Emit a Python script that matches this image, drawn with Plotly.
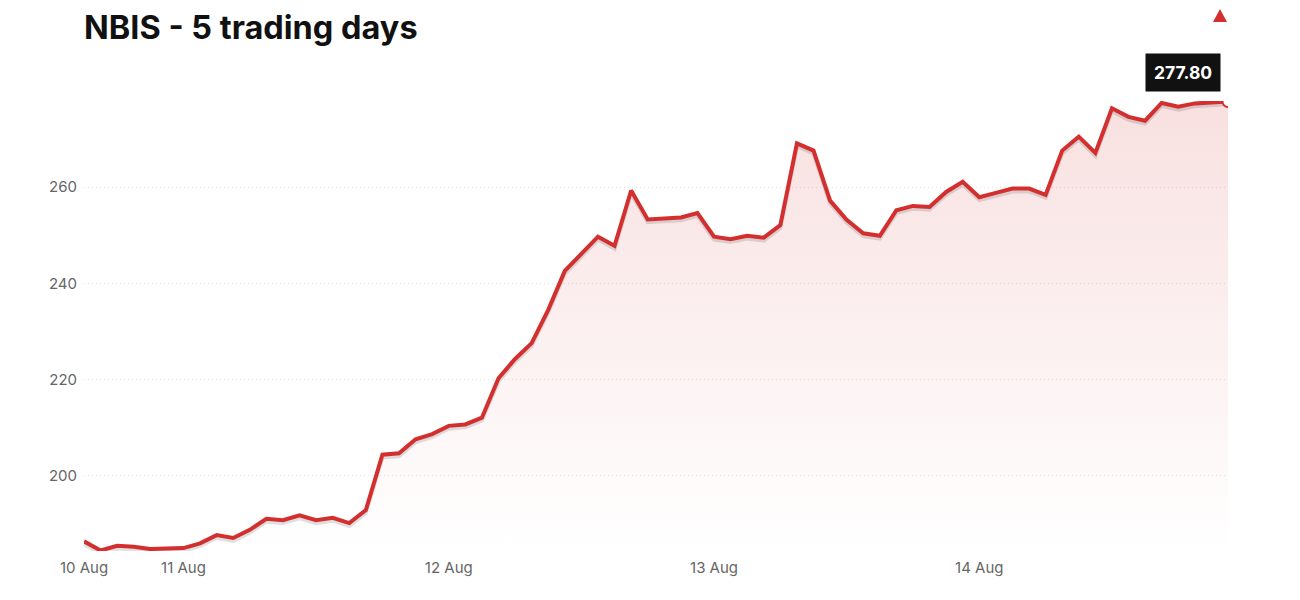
import plotly.graph_objects as go

# NBIS price, 16 points per trading day (first 6 points before 11 Aug)
prices = [
    186.4, 184.5, 185.5, 185.3, 184.8, 184.8,
    185.0, 186.0, 187.7, 187.1, 188.8, 191.1, 190.8, 191.8,
    190.8, 191.3, 190.2, 192.9, 204.4, 204.7, 207.6, 208.7,
    210.4, 210.7, 212.1, 220.3, 224.3, 227.6, 234.5, 242.6,
    246.1, 249.7, 247.8, 259.3, 253.3, 253.4, 253.7, 254.6,
    249.7, 249.2, 249.9, 249.5, 252.1, 269.1, 267.6, 257.2,
    253.2, 250.4, 249.9, 255.2, 256.1, 255.9, 259.0, 261.1,
    257.9, 258.8, 259.7, 259.7, 258.4, 267.6, 270.5, 267.1,
    276.4, 274.6, 273.8, 277.5, 276.7, 277.4, 277.5, 277.8,
]
x_idx = list(range(len(prices)))

tick_pos = [0, 6, 22, 38, 54]
tick_labels = ["10 Aug", "11 Aug", "12 Aug", "13 Aug", "14 Aug"]
y_ticks = [200, 220, 240, 260]

last_price = prices[-1]
RED = "rgb(211,47,47)"
FONT = "Inter"

# page body adds 8px, so margins are trimmed to land where the reference is
ML, MR, MT, MB = 76, 80, 93, 57
W, H = 1300, 600
PLOT_W, PLOT_H = W - ML - MR, H - MT - MB

fig = go.Figure()

# gradient fill under the line
fig.add_trace(go.Scatter(
    x=x_idx, y=prices, mode="none", fill="tozeroy",
    fillgradient=dict(
        type="vertical",
        start=min(prices), stop=max(prices),
        colorscale=[[0, "rgba(211,47,47,0.0)"], [1, "rgba(211,47,47,0.15)"]],
    ),
    hoverinfo="skip", showlegend=False,
))

# soft shadow below the line
fig.add_trace(go.Scatter(
    x=x_idx, y=[p - 0.6 for p in prices], mode="lines",
    line=dict(color="rgba(0,0,0,0.12)", width=4),
    hoverinfo="skip", showlegend=False,
))

fig.add_trace(go.Scatter(
    x=x_idx, y=prices, mode="lines",
    line=dict(color=RED, width=4),
    showlegend=False,
))

# end marker
fig.add_trace(go.Scatter(
    x=[x_idx[-1]], y=[last_price], mode="markers",
    marker=dict(size=11, color="white", line=dict(color=RED, width=2)),
    showlegend=False,
))

fig.add_annotation(
    x=x_idx[-1], y=last_price, text=f"<b>{last_price:.2f}</b>",
    showarrow=False, xanchor="right", yanchor="bottom",
    xshift=-7, yshift=9,
    bgcolor="#111111", borderpad=8,
    font=dict(family=FONT, size=17.5, color="white"),
)

# little up-triangle in the top right corner (drawn as a pixel-sized shape)
fig.add_shape(
    type="path", xref="paper", yref="paper",
    xsizemode="pixel", ysizemode="pixel",
    xanchor=(1212 - ML) / PLOT_W, yanchor=1 + (MT - 7.5) / PLOT_H,
    path="M -7,-6.5 L 7,-6.5 L 0,6.5 Z",
    fillcolor=RED, line=dict(width=0),
)

fig.update_layout(
    width=W, height=H,
    margin=dict(l=ML, r=MR, t=MT, b=MB),
    paper_bgcolor="white", plot_bgcolor="white",
    font=dict(family=FONT, size=15, color="#666666"),
    title=dict(
        text="<b>NBIS - 5 trading days</b>",
        x=ML / W, xref="container", xanchor="left",
        y=1 - 19.5 / H, yref="container", yanchor="middle",
        font=dict(family=FONT, size=32.5, color="#111111"),
    ),
)

fig.update_xaxes(
    range=[0, x_idx[-1]], tickvals=tick_pos, ticktext=tick_labels,
    showgrid=False, zeroline=False, showline=False, ticks="",
    ticklabelstandoff=6,
    tickfont=dict(size=15, color="#666666"),
)
fig.update_yaxes(
    range=[184.4, 277.9], tickvals=y_ticks,
    showgrid=True, gridcolor="#e2e2e2", griddash="1px,3px", gridwidth=1,
    zeroline=False, showline=False, ticks="", ticklabelstandoff=6,
    tickfont=dict(size=15, color="#666666"),
)

fig.write_html("out.html")
